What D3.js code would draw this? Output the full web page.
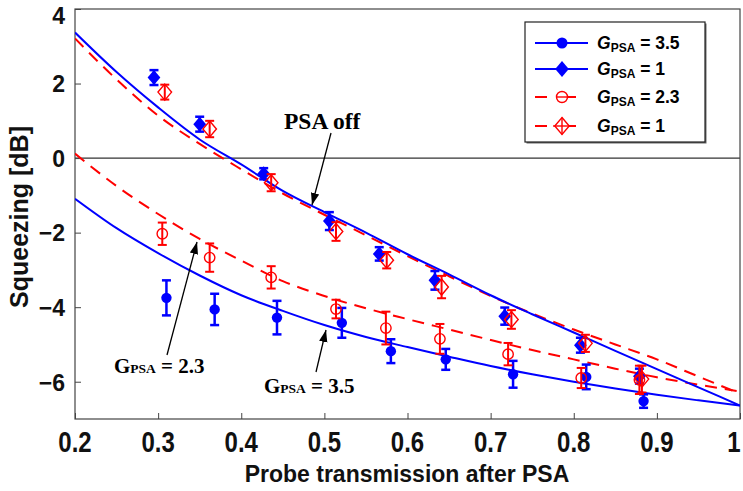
<!DOCTYPE html>
<html>
<head>
<meta charset="utf-8">
<script src="https://cdn.jsdelivr.net/npm/d3@7"></script>
<style>
  body { margin: 0; background: #fff; }
  svg { display: block; }
</style>
</head>
<body>
<div id="chart"></div>
<script>
// theory curves
const curveX = [0.2, 0.25, 0.3, 0.35, 0.4, 0.45, 0.5, 0.55, 0.6, 0.65, 0.7, 0.75, 0.8, 0.85, 0.9, 0.95, 1.0];
const curveOffBlue = [3.37, 2.31, 1.36, 0.5, -0.17, -0.88, -1.45, -2.0, -2.58, -3.12, -3.68, -4.19, -4.68, -5.17, -5.66, -6.15, -6.64];
const curveOffRed = [3.21, 2.11, 1.14, 0.38, -0.3, -0.95, -1.52, -2.07, -2.63, -3.17, -3.7, -4.17, -4.6, -5.0, -5.4, -5.86, -6.32];
const curve35 = [-1.09, -1.88, -2.55, -3.15, -3.68, -4.1, -4.48, -4.8, -5.07, -5.33, -5.58, -5.8, -6.0, -6.18, -6.35, -6.5, -6.64];
const curve23 = [0.12, -0.75, -1.5, -2.17, -2.75, -3.3, -3.7, -4.03, -4.32, -4.6, -4.88, -5.15, -5.4, -5.65, -5.88, -6.08, -6.26];

// measured points
const g35X = [0.310, 0.368, 0.443, 0.521, 0.580, 0.646, 0.727, 0.815, 0.884];
const g35Y = [-3.75, -4.06, -4.28, -4.42, -5.18, -5.40, -5.80, -5.87, -6.52];
const g35E = [0.47, 0.42, 0.45, 0.40, 0.32, 0.28, 0.36, 0.33, 0.18];

const g1bX = [0.295, 0.350, 0.427, 0.506, 0.566, 0.633, 0.717, 0.808, 0.879];
const g1bY = [2.16, 0.91, -0.42, -1.69, -2.57, -3.28, -4.24, -5.02, -5.85];
const g1bE = [0.2, 0.2, 0.15, 0.24, 0.18, 0.25, 0.23, 0.2, 0.2];

const g23X = [0.305, 0.362, 0.436, 0.514, 0.574, 0.639, 0.721, 0.809, 0.879];
const g23Y = [-2.03, -2.67, -3.20, -4.05, -4.56, -4.85, -5.26, -5.90, -5.95];
const g23E = [0.3, 0.38, 0.3, 0.25, 0.44, 0.4, 0.3, 0.27, 0.38];

const g1rX = [0.308, 0.362, 0.436, 0.514, 0.575, 0.641, 0.725, 0.814, 0.882];
const g1rY = [1.77, 0.78, -0.66, -1.97, -2.74, -3.46, -4.33, -4.97, -5.93];
const g1rE = [0.2, 0.22, 0.23, 0.25, 0.22, 0.3, 0.25, 0.23, 0.36];

const xTicks = [0.2, 0.3, 0.4, 0.5, 0.6, 0.7, 0.8, 0.9, 1];
const yTicks = [-6, -4, -2, 0, 2, 4];
const legendLabels = ["3.5", "1", "2.3", "1"];

const BLUE = "#0000ff", RED = "#ff0000";
const sans = "'Liberation Sans', Arial, sans-serif";
const serif = "'Liberation Serif', 'Times New Roman', serif";

const margin = { top: 9, right: 3, bottom: 72, left: 75 },
  width = 743 - margin.left - margin.right,
  height = 491 - margin.top - margin.bottom;

const root = d3.select("#chart").append("svg").attr("width", 743).attr("height", 491);

const defs = root.append("defs");
defs.append("marker").attr("id", "arrow").attr("viewBox", "0 0 10 10")
  .attr("refX", 10).attr("refY", 5).attr("markerWidth", 12).attr("markerHeight", 12)
  .attr("markerUnits", "userSpaceOnUse").attr("orient", "auto")
  .append("path").attr("d", "M0,1.5 L10,5 L0,8.5 Z").attr("fill", "#000");

const svg = root.append("g").attr("transform", `translate(${margin.left},${margin.top})`);

const x = d3.scaleLinear().domain([0.2, 1]).range([0, width]);
const y = d3.scaleLinear().domain([-7, 4]).range([height, 0]);

// zero line
svg.append("line").attr("x1", 0).attr("x2", width).attr("y1", y(0)).attr("y2", y(0))
  .attr("stroke", "#333").attr("stroke-width", 1.2);

// axes (inward ticks)
const xAxis = svg.append("g").attr("transform", `translate(0,${height})`)
  .call(d3.axisBottom(x).tickValues(xTicks).tickSizeInner(-6).tickSizeOuter(0).tickFormat(""));
const yAxis = svg.append("g")
  .call(d3.axisLeft(y).tickValues(yTicks).tickSizeInner(-6).tickSizeOuter(0).tickPadding(10)
    .tickFormat(d => d < 0 ? "\u2212" + Math.abs(d) : d));
[xAxis, yAxis].forEach(a => {
  a.select(".domain").remove();
  a.selectAll("line").attr("stroke", "#444").attr("stroke-width", 1);
  a.selectAll("text").attr("font-family", sans).attr("font-weight", "bold")
    .attr("font-size", 23).attr("fill", "#111");
});
yAxis.selectAll("text").attr("dy", d => d === 4 ? "0.62em" : "0.36em");

// x tick labels are drawn a bit tall and narrow in the original
svg.append("g").selectAll("text").data(xTicks).enter().append("text")
  .attr("transform", d => `translate(${d === 1 ? width - 6 : x(d)},${height + 33}) scale(1,1.2)`)
  .attr("text-anchor", "middle")
  .attr("font-family", sans).attr("font-weight", "bold").attr("font-size", 24).attr("fill", "#111")
  .text(d => d === 1 ? "1" : d3.format(".1f")(d));

// frame
svg.append("rect").attr("width", width).attr("height", height)
  .attr("fill", "none").attr("stroke", "#444").attr("stroke-width", 1.2);

// curves
const line = d3.line().x((d, i) => x(curveX[i])).y(d => y(d)).curve(d3.curveMonotoneX);
const clip = defs.append("clipPath").attr("id", "clip");
clip.append("rect").attr("width", width).attr("height", height);
const plot = svg.append("g").attr("clip-path", "url(#clip)");

plot.append("path").datum(curveOffRed).attr("d", line).attr("fill", "none")
  .attr("stroke", RED).attr("stroke-width", 2).attr("stroke-dasharray", "12,8");
plot.append("path").datum(curve23).attr("d", line).attr("fill", "none")
  .attr("stroke", RED).attr("stroke-width", 2).attr("stroke-dasharray", "12,8");
plot.append("path").datum(curveOffBlue).attr("d", line).attr("fill", "none")
  .attr("stroke", BLUE).attr("stroke-width", 2);
plot.append("path").datum(curve35).attr("d", line).attr("fill", "none")
  .attr("stroke", BLUE).attr("stroke-width", 2);

// markers
const diamond = s => `M0,${-s} L${s * 0.85},0 L0,${s} L${-s * 0.85},0 Z`;

function errorBars(g, xs, ys, es, color, w) {
  const pts = xs.map((v, i) => ({ x: v, y: ys[i], e: es[i] }));
  const eg = g.append("g").attr("stroke", color).attr("stroke-width", w);
  eg.selectAll(".bar").data(pts).enter().append("line")
    .attr("x1", d => x(d.x)).attr("x2", d => x(d.x))
    .attr("y1", d => y(d.y + d.e)).attr("y2", d => y(d.y - d.e));
  eg.selectAll(".capT").data(pts).enter().append("line")
    .attr("x1", d => x(d.x) - 4.5).attr("x2", d => x(d.x) + 4.5)
    .attr("y1", d => y(d.y + d.e)).attr("y2", d => y(d.y + d.e));
  eg.selectAll(".capB").data(pts).enter().append("line")
    .attr("x1", d => x(d.x) - 4.5).attr("x2", d => x(d.x) + 4.5)
    .attr("y1", d => y(d.y - d.e)).attr("y2", d => y(d.y - d.e));
  return pts;
}

const pts = svg.append("g");
// blue G=1 diamonds
let p = errorBars(pts, g1bX, g1bY, g1bE, BLUE, 2.5);
pts.selectAll(".bd").data(p).enter().append("path")
  .attr("transform", d => `translate(${x(d.x)},${y(d.y)})`).attr("d", diamond(7.5)).attr("fill", BLUE);
// red G=1 diamonds
p = errorBars(pts, g1rX, g1rY, g1rE, RED, 2);
pts.selectAll(".rd").data(p).enter().append("path")
  .attr("transform", d => `translate(${x(d.x)},${y(d.y)})`).attr("d", diamond(8))
  .attr("fill", "none").attr("stroke", RED).attr("stroke-width", 1.4);
// blue G=3.5 circles
p = errorBars(pts, g35X, g35Y, g35E, BLUE, 2.5);
pts.selectAll(".bc").data(p).enter().append("circle")
  .attr("cx", d => x(d.x)).attr("cy", d => y(d.y)).attr("r", 5.2).attr("fill", BLUE);
// red G=2.3 circles
p = errorBars(pts, g23X, g23Y, g23E, RED, 2);
pts.selectAll(".rc").data(p).enter().append("circle")
  .attr("cx", d => x(d.x)).attr("cy", d => y(d.y)).attr("r", 5.2)
  .attr("fill", "none").attr("stroke", RED).attr("stroke-width", 1.4);

// annotations
function gpsa(g, tx, ty, val) {
  const t = g.append("text").attr("x", tx).attr("y", ty).attr("font-family", serif)
    .attr("font-weight", "bold").attr("font-size", 21).attr("fill", "#000");
  t.append("tspan").text("G");
  t.append("tspan").attr("font-size", 13.5).text("PSA");
  t.append("tspan").text(" = " + val);
}
const ann = root.append("g");
ann.append("text").attr("x", 284).attr("y", 129).attr("font-family", serif)
  .attr("font-weight", "bold").attr("font-size", 23.5).text("PSA off");
ann.append("line").attr("x1", 331).attr("y1", 133).attr("x2", 312).attr("y2", 205)
  .attr("stroke", "#000").attr("stroke-width", 1.3).attr("marker-end", "url(#arrow)");
gpsa(ann, 114, 373, "2.3");
ann.append("line").attr("x1", 167).attr("y1", 355).attr("x2", 197).attr("y2", 242)
  .attr("stroke", "#000").attr("stroke-width", 1.3).attr("marker-end", "url(#arrow)");
gpsa(ann, 264, 393, "3.5");
ann.append("line").attr("x1", 316).attr("y1", 372).attr("x2", 326).attr("y2", 330)
  .attr("stroke", "#000").attr("stroke-width", 1.3).attr("marker-end", "url(#arrow)");

// legend
const lg = root.append("g").attr("transform", "translate(525,22)");
lg.append("rect").attr("x", 1.5).attr("y", 1.5).attr("width", 180).attr("height", 120).attr("fill", "#666");
lg.append("rect").attr("width", 180).attr("height", 120).attr("fill", "#fff")
  .attr("stroke", "#222").attr("stroke-width", 1.2);
const rowsY = [21, 47, 75, 104];
legendLabels.forEach((lab, i) => {
  const row = lg.append("g").attr("transform", `translate(0,${rowsY[i]})`);
  const col = i < 2 ? BLUE : RED;
  row.append("line").attr("x1", 10).attr("x2", 63).attr("y1", 0).attr("y2", 0)
    .attr("stroke", col).attr("stroke-width", 2).attr("stroke-dasharray", i < 2 ? null : "12,17");
  if (i === 0) row.append("circle").attr("cx", 37).attr("r", 5.5).attr("fill", BLUE);
  if (i === 1) row.append("path").attr("transform", "translate(37,0)").attr("d", diamond(8)).attr("fill", BLUE);
  if (i === 2) {
    row.append("circle").attr("cx", 37).attr("r", 5.5).attr("fill", "#fff").attr("stroke", RED).attr("stroke-width", 1.4);
    row.append("line").attr("x1", 31.5).attr("x2", 42.5).attr("stroke", RED).attr("stroke-width", 1.4);
  }
  if (i === 3) {
    row.append("path").attr("transform", "translate(37,0)").attr("d", diamond(8.5))
      .attr("fill", "#fff").attr("stroke", RED).attr("stroke-width", 1.4);
    row.append("line").attr("x1", 28).attr("x2", 46).attr("stroke", RED).attr("stroke-width", 1.4);
    row.append("line").attr("x1", 37).attr("x2", 37).attr("y1", -8.5).attr("y2", 8.5).attr("stroke", RED).attr("stroke-width", 1.4);
  }
  const t = row.append("text").attr("x", 72).attr("y", 6).attr("font-family", sans)
    .attr("font-weight", "bold").attr("font-size", 17.5).attr("fill", "#000");
  t.append("tspan").attr("font-style", "italic").text("G");
  t.append("tspan").attr("font-size", 12).attr("dy", 3).text("PSA");
  t.append("tspan").attr("dy", -3).text(" = " + lab);
});

// axis titles
root.append("text").attr("x", 407).attr("y", 482).attr("text-anchor", "middle")
  .attr("font-family", sans).attr("font-weight", "bold").attr("font-size", 23).attr("fill", "#111")
  .text("Probe transmission after PSA");
root.append("text").attr("transform", "translate(28,217) rotate(-90)").attr("text-anchor", "middle")
  .attr("font-family", sans).attr("font-weight", "bold").attr("font-size", 25).attr("fill", "#111")
  .text("Squeezing [dB]");
</script>
</body>
</html>
